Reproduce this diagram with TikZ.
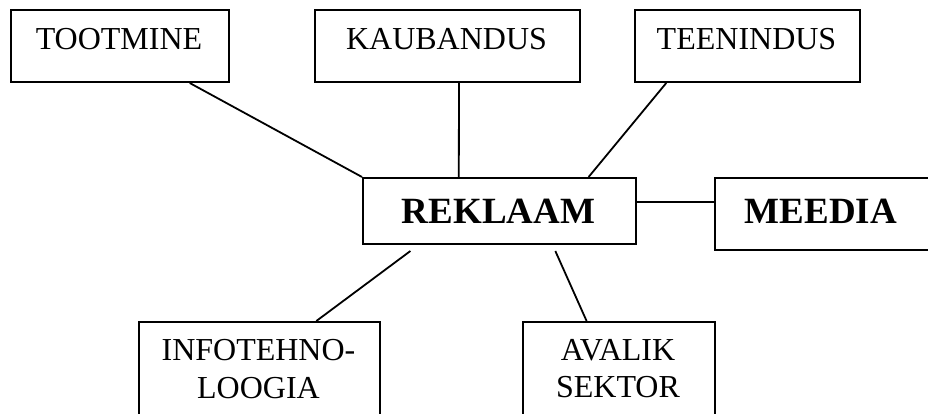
\documentclass[tikz,border=0pt]{standalone}
\usepackage{fontspec}
\setmainfont{Liberation Serif}
\usetikzlibrary{calc}
\tikzset{
  boxnode/.style={draw, line width=2pt, rectangle, anchor=north west, inner sep=0pt},
  lbl/.style={anchor=base, inner sep=0pt, font=\fontsize{32}{38}\selectfont},
  blbl/.style={anchor=base, inner sep=0pt, font=\fontsize{37}{42}\selectfont\bfseries},
  conn/.style={line width=1.8pt}
}
\begin{document}
\begin{tikzpicture}[x=1pt,y=-1pt]
\useasboundingbox (0,0) rectangle (928,414);
\clip (0,0) rectangle (928,414);
% boxes
\node[boxnode, minimum width=218pt, minimum height=72pt] (toot) at (10,9) {};
\node[boxnode, minimum width=265pt, minimum height=72pt] (kaub) at (314,9) {};
\node[boxnode, minimum width=225pt, minimum height=72pt] (teen) at (634,9) {};
\node[boxnode, minimum width=273pt, minimum height=66pt] (rek) at (362,177) {};
\node[boxnode, minimum width=222pt, minimum height=72pt] (meed) at (714,177) {};
\node[boxnode, minimum width=241pt, minimum height=110pt] (info) at (138,321) {};
\node[boxnode, minimum width=192pt, minimum height=110pt] (aval) at (522,321) {};
% labels
\node[lbl] (ttoot) at (119,50) {TOOTMINE};
\node[lbl] (tkaub) at (446.5,50) {KAUBANDUS};
\node[lbl] (tteen) at (746.5,50) {TEENINDUS};
\node[blbl] (trek) at (498.5,223) {REKLAAM};
\node[blbl] (tmeed) at (821,223) {MEEDIA};
\node[lbl] (tinfo1) at (258.5,360) {INFOTEHNO-};
\node[lbl] (tinfo2) at (258.5,398) {LOOGIA};
\node[lbl] (taval1) at (618,360) {AVALIK};
\node[lbl] (taval2) at (618,397) {SEKTOR};
% connectors
\coordinate (i1) at ($(rek.south west)!0.176!(rek.south east)+(0,6)$);
\coordinate (a1) at ($(rek.south west)!0.703!(rek.south east)+(0,6)$);
\coordinate (m1) at ($(rek.north east)!0.364!(rek.south east)$);
\draw[conn] ($(toot.south west)!0.817!(toot.south east)$) -- (rek.north west);
\draw[conn] ($(kaub.south west)!0.543!(kaub.south east)$) -- ($(rek.north west)!0.352!(rek.north east)$);
\draw[conn] ($(teen.south west)!0.142!(teen.south east)$) -- ($(rek.north west)!0.824!(rek.north east)$);
\draw[conn] (m1) -- (m1 -| meed.west);
\draw[conn] (i1) -- ($(info.north west)!0.734!(info.north east)$);
\draw[conn] (a1) -- ($(aval.north west)!0.333!(aval.north east)$);
\end{tikzpicture}
\end{document}
